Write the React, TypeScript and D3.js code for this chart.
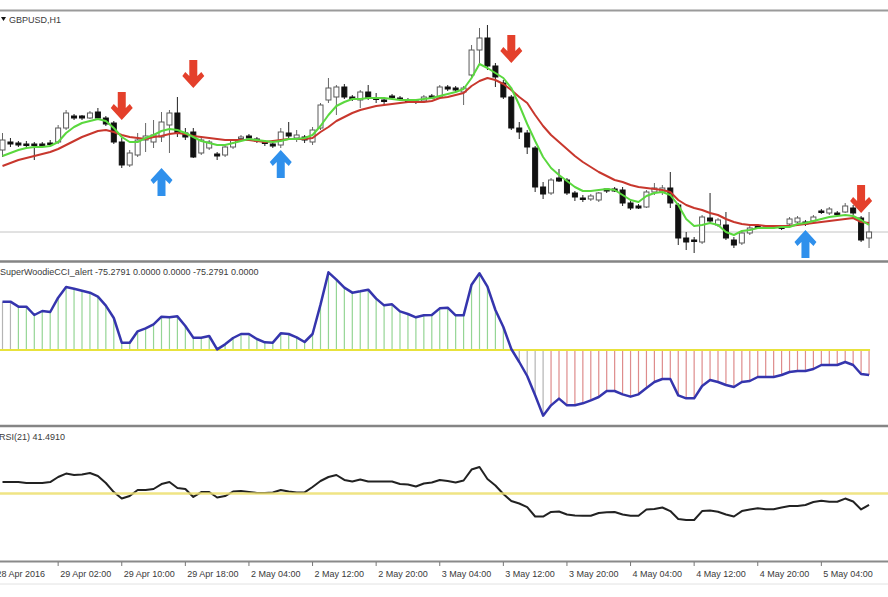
import { useEffect, useRef } from 'react';
import * as d3 from 'd3';

// GBPUSD H1 candles, 110 bars (28 Apr 19:00 .. 5 May 08:00)
const opens = [
  1.4660, 1.4668, 1.4667, 1.4666, 1.4666, 1.4666, 1.4667, 1.4668, 1.4682, 1.4694,
  1.4694, 1.4692, 1.4698, 1.4692, 1.4687, 1.4668, 1.4645, 1.4655, 1.4670, 1.4668,
  1.4673, 1.4685, 1.4697, 1.4677, 1.4678, 1.4657, 1.4662, 1.4656, 1.4655, 1.4663,
  1.4672, 1.4674, 1.4671, 1.4668, 1.4666, 1.4665, 1.4677, 1.4672, 1.4673, 1.4668,
  1.4682, 1.4710, 1.4713, 1.4723, 1.4713, 1.4710, 1.4718, 1.4712, 1.4710, 1.4714,
  1.4712, 1.4710, 1.4709, 1.4709, 1.4714, 1.4713, 1.4723, 1.4722, 1.4718, 1.4735,
  1.4760, 1.4772, 1.4744, 1.4727, 1.4713, 1.4682, 1.4677, 1.4662, 1.4623, 1.4617,
  1.4632, 1.4630, 1.4617, 1.4612, 1.4611, 1.4610, 1.4621, 1.4621, 1.4620, 1.4607,
  1.4604, 1.4603, 1.4618, 1.4618, 1.4622, 1.4605, 1.4572, 1.4570, 1.4568, 1.4592,
  1.4585, 1.4585, 1.4570, 1.4567, 1.4577, 1.4584, 1.4583, 1.4584, 1.4583, 1.4586,
  1.4588, 1.4588, 1.4589, 1.4599, 1.4597, 1.4597, 1.4598, 1.4602, 1.4592, 1.4572,
];
const highs = [
  1.4677, 1.4672, 1.4669, 1.4669, 1.4668, 1.4668, 1.4670, 1.4685, 1.4700, 1.4696,
  1.4695, 1.4699, 1.4702, 1.4694, 1.4689, 1.4672, 1.4660, 1.4677, 1.4687, 1.4690,
  1.4698, 1.4700, 1.4713, 1.4682, 1.4682, 1.4672, 1.4670, 1.4658, 1.4664, 1.4671,
  1.4675, 1.4676, 1.4673, 1.4670, 1.4669, 1.4682, 1.4688, 1.4680, 1.4675, 1.4683,
  1.4707, 1.4732, 1.4725, 1.4726, 1.4715, 1.4720, 1.4725, 1.4717, 1.4713, 1.4716,
  1.4714, 1.4712, 1.4711, 1.4715, 1.4716, 1.4725, 1.4725, 1.4724, 1.4724, 1.4765,
  1.4782, 1.4785, 1.4747, 1.4730, 1.4715, 1.4688, 1.4680, 1.4664, 1.4628, 1.4632,
  1.4641, 1.4632, 1.4619, 1.4615, 1.4616, 1.4618, 1.4622, 1.4623, 1.4623, 1.4609,
  1.4606, 1.4620, 1.4627, 1.4625, 1.4638, 1.4607, 1.4578, 1.4573, 1.4595, 1.4617,
  1.4592, 1.4598, 1.4573, 1.4579, 1.4584, 1.4586, 1.4585, 1.4585, 1.4585, 1.4593,
  1.4594, 1.4590, 1.4595, 1.4601, 1.4603, 1.4599, 1.4607, 1.4605, 1.4594, 1.4598,
];
const lows = [
  1.4653, 1.4663, 1.4663, 1.4662, 1.4650, 1.4663, 1.4664, 1.4666, 1.4680, 1.4690,
  1.4690, 1.4691, 1.4690, 1.4684, 1.4666, 1.4642, 1.4643, 1.4653, 1.4658, 1.4662,
  1.4668, 1.4657, 1.4673, 1.4670, 1.4652, 1.4655, 1.4660, 1.4650, 1.4653, 1.4661,
  1.4670, 1.4669, 1.4667, 1.4664, 1.4662, 1.4662, 1.4670, 1.4668, 1.4667, 1.4665,
  1.4680, 1.4707, 1.4695, 1.4711, 1.4709, 1.4702, 1.4710, 1.4707, 1.4705, 1.4711,
  1.4709, 1.4708, 1.4706, 1.4707, 1.4711, 1.4711, 1.4719, 1.4718, 1.4705, 1.4732,
  1.4747, 1.4740, 1.4723, 1.4711, 1.4680, 1.4671, 1.4656, 1.4618, 1.4611, 1.4615,
  1.4628, 1.4615, 1.4609, 1.4608, 1.4609, 1.4608, 1.4617, 1.4618, 1.4604, 1.4600,
  1.4601, 1.4602, 1.4615, 1.4615, 1.4602, 1.4565, 1.4560, 1.4557, 1.4566, 1.4587,
  1.4583, 1.4570, 1.4562, 1.4565, 1.4575, 1.4581, 1.4581, 1.4581, 1.4580, 1.4584,
  1.4586, 1.4584, 1.4587, 1.4596, 1.4595, 1.4594, 1.4597, 1.4595, 1.4568, 1.4562,
];
const closes = [
  1.4670, 1.4666, 1.4665, 1.4665, 1.4665, 1.4665, 1.4666, 1.4682, 1.4697, 1.4692,
  1.4692, 1.4697, 1.4692, 1.4686, 1.4668, 1.4645, 1.4657, 1.4670, 1.4674, 1.4675,
  1.4688, 1.4697, 1.4677, 1.4673, 1.4653, 1.4670, 1.4668, 1.4654, 1.4663, 1.4670,
  1.4673, 1.4672, 1.4669, 1.4667, 1.4664, 1.4678, 1.4674, 1.4675, 1.4670, 1.4680,
  1.4705, 1.4722, 1.4723, 1.4713, 1.4711, 1.4718, 1.4712, 1.4711, 1.4709, 1.4713,
  1.4711, 1.4709, 1.4708, 1.4713, 1.4712, 1.4723, 1.4721, 1.4720, 1.4722, 1.4760,
  1.4772, 1.4744, 1.4733, 1.4713, 1.4682, 1.4678, 1.4663, 1.4623, 1.4616, 1.4630,
  1.4629, 1.4617, 1.4613, 1.4611, 1.4614, 1.4617, 1.4619, 1.4619, 1.4607, 1.4602,
  1.4602, 1.4618, 1.4622, 1.4622, 1.4607, 1.4572, 1.4568, 1.4569, 1.4593, 1.4589,
  1.4590, 1.4572, 1.4565, 1.4577, 1.4582, 1.4583, 1.4582, 1.4583, 1.4582, 1.4591,
  1.4592, 1.4586, 1.4593, 1.4598, 1.4601, 1.4596, 1.4604, 1.4597, 1.4570, 1.4578,
];

// fast (green) and slow (red) moving averages
const fastMa = [
  1.4654, 1.4657, 1.4660, 1.4662, 1.4663, 1.4663, 1.4664, 1.4668, 1.4677, 1.4683,
  1.4687, 1.4689, 1.4691, 1.4689, 1.4682, 1.4673, 1.4668, 1.4668, 1.4672, 1.4675,
  1.4679, 1.4681, 1.4680, 1.4677, 1.4673, 1.4669, 1.4667, 1.4665, 1.4665, 1.4667,
  1.4669, 1.4671, 1.4670, 1.4669, 1.4668, 1.4669, 1.4671, 1.4671, 1.4672, 1.4675,
  1.4684, 1.4695, 1.4704, 1.4708, 1.4711, 1.4711, 1.4712, 1.4712, 1.4712, 1.4711,
  1.4710, 1.4710, 1.4710, 1.4711, 1.4712, 1.4714, 1.4716, 1.4718, 1.4721, 1.4732,
  1.4746, 1.4742, 1.4737, 1.4732, 1.4722, 1.4705, 1.4686, 1.4669, 1.4653, 1.4642,
  1.4635, 1.4629, 1.4623, 1.4619, 1.4619, 1.4620, 1.4621, 1.4620, 1.4615, 1.4610,
  1.4608, 1.4614, 1.4617, 1.4618, 1.4615, 1.4605, 1.4591, 1.4584, 1.4585, 1.4587,
  1.4585, 1.4578, 1.4575, 1.4579, 1.4580, 1.4582, 1.4582, 1.4582, 1.4583, 1.4583,
  1.4586, 1.4587, 1.4589, 1.4591, 1.4593, 1.4594, 1.4595, 1.4594, 1.4590, 1.4585,
];
const slowMa = [
  1.4644, 1.4647, 1.4650, 1.4652, 1.4654, 1.4656, 1.4658, 1.4661, 1.4665, 1.4669,
  1.4673, 1.4676, 1.4679, 1.4680, 1.4678, 1.4675, 1.4673, 1.4672, 1.4671, 1.4673,
  1.4674, 1.4676, 1.4677, 1.4676, 1.4674, 1.4673, 1.4672, 1.4671, 1.4670, 1.4670,
  1.4670, 1.4670, 1.4669, 1.4668, 1.4669, 1.4670, 1.4671, 1.4671, 1.4671, 1.4672,
  1.4678, 1.4683, 1.4689, 1.4693, 1.4697, 1.4700, 1.4702, 1.4704, 1.4705, 1.4706,
  1.4707, 1.4708, 1.4708, 1.4708, 1.4709, 1.4712, 1.4713, 1.4715, 1.4717, 1.4724,
  1.4729, 1.4732, 1.4730, 1.4726, 1.4720, 1.4713, 1.4707, 1.4695, 1.4684, 1.4675,
  1.4668, 1.4661, 1.4654, 1.4648, 1.4643, 1.4638, 1.4634, 1.4630, 1.4628, 1.4625,
  1.4623, 1.4622, 1.4621, 1.4620, 1.4618, 1.4610, 1.4605, 1.4602, 1.4600, 1.4597,
  1.4595, 1.4591, 1.4588, 1.4586, 1.4585, 1.4585, 1.4584, 1.4584, 1.4584, 1.4584,
  1.4585, 1.4586, 1.4587, 1.4588, 1.4589, 1.4590, 1.4591, 1.4592, 1.4588, 1.4587,
];

// signal arrows: bar index and price of the arrow tip
const sellBars = [15, 24, 64, 108];
const sellPrices = [1.4690, 1.4722, 1.4747, 1.4597];
const buyBars = [20, 35, 101];
const buyPrices = [1.4642, 1.4660, 1.4580];

// SuperWoodieCCI
const cciValues = [
  145, 145, 130, 130, 105, 117, 114, 157, 189, 184,
  178, 172, 160, 133, 96, 22, 22, 56, 65, 77,
  100, 98, 101, 72, 37, 37, 42, 2, 17, 36,
  48, 48, 33, 23, 22, 50, 48, 38, 24, 48,
  136, 233, 211, 187, 172, 176, 181, 154, 134, 137,
  116, 108, 98, 104, 105, 125, 127, 104, 104, 196,
  230, 190, 120, 69, 3, -36, -78, -136, -197, -166,
  -146, -166, -166, -160, -151, -141, -123, -123, -133, -140,
  -133, -114, -96, -87, -87, -136, -145, -145, -108, -90,
  -96, -105, -111, -96, -93, -81, -81, -81, -75, -66,
  -63, -63, -57, -45, -45, -45, -36, -45, -72, -75.2791,
];

// RSI(21)
const rsiValues = [
  58.6, 58.6, 58.6, 57.9, 57.9, 57.9, 58.6, 62.4, 65.0, 63.9,
  64.3, 65.4, 63.2, 57.9, 51.1, 46.2, 48.1, 52.6, 52.6, 53.4,
  57.1, 58.6, 54.1, 53.4, 47.4, 51.1, 51.1, 47.0, 48.1, 51.5,
  51.9, 51.1, 50.4, 50.4, 50.8, 52.6, 51.5, 50.8, 50.8, 54.9,
  59.4, 62.4, 63.9, 60.2, 59.0, 60.5, 59.0, 59.0, 59.0, 59.0,
  57.1, 56.8, 55.3, 57.5, 58.3, 60.2, 59.4, 58.3, 59.8, 68.0,
  69.9, 60.9, 56.0, 49.6, 44.4, 42.5, 39.8, 32.7, 32.7, 36.1,
  36.5, 34.2, 33.5, 33.3, 33.3, 35.3, 35.9, 36.1, 34.2, 33.3,
  33.3, 38.0, 38.3, 39.5, 36.8, 30.8, 30.1, 30.1, 36.8, 37.2,
  36.3, 34.2, 32.7, 36.8, 38.0, 38.9, 38.1, 38.1, 39.5, 40.6,
  40.6, 41.4, 43.6, 44.6, 43.8, 43.8, 46.2, 44.0, 38.0, 41.491,
];
const rsiLevel = 50;

// time axis
const tickBars = [-1, 7, 15, 23, 31, 39, 47, 55, 63, 71, 79, 87, 95, 103];
const tickLabels = [
  '28 Apr 2016', '29 Apr 02:00', '29 Apr 10:00', '29 Apr 18:00', '2 May 04:00',
  '2 May 12:00', '2 May 20:00', '3 May 04:00', '3 May 12:00', '3 May 20:00',
  '4 May 04:00', '4 May 12:00', '4 May 20:00', '5 May 04:00',
];

export default function App() {
  const svgRef = useRef<SVGSVGElement>(null);

  useEffect(() => {
    if (!svgRef.current) return;

    const width = 888;
    const height = 597;
    const font = 'Liberation Sans, Arial, sans-serif';
    const textColor = '#3a3a3a';

    const svg = d3.select(svgRef.current);
    svg.selectAll('*').remove();

    svg.append('rect').attr('width', width).attr('height', height).attr('fill', '#fff');

    const n = closes.length;
    const x = d3.scaleLinear().domain([0, n - 1]).range([2.5, 2.5 + (n - 1) * 7.95]);
    const yPrice = d3.scaleLinear().domain([1.4549, 1.48]).range([261, 10]);
    const yCci = d3.scaleLinear().domain([-225, 261]).range([425, 263]);
    const yRsi = d3.scaleLinear().domain([0, 100]).range([560, 427]);
    const bars = d3.range(n);

    // panel frames
    const frames = [
      { y: 10.5, w: 2, c: '#9a9a9a' },
      { y: 261.5, w: 2.5, c: '#858585' },
      { y: 426, w: 2.5, c: '#858585' },
      { y: 561.5, w: 2, c: '#8a8a8a' },
      { y: 584, w: 1, c: '#e2e2e2' },
    ];
    svg.append('g').selectAll('line').data(frames).join('line')
      .attr('x1', 0).attr('x2', width)
      .attr('y1', d => d.y).attr('y2', d => d.y)
      .attr('stroke', d => d.c).attr('stroke-width', d => d.w);

    // ---------- main panel ----------
    const main = svg.append('g');

    // last price line
    main.append('line')
      .attr('x1', 0).attr('x2', width)
      .attr('y1', yPrice(closes[n - 1])).attr('y2', yPrice(closes[n - 1]))
      .attr('stroke', '#c4c4c4').attr('stroke-width', 1);

    const candles = main.append('g').selectAll('g').data(bars).join('g');
    candles.append('line')
      .attr('x1', i => x(i)).attr('x2', i => x(i))
      .attr('y1', i => yPrice(highs[i])).attr('y2', i => yPrice(lows[i]))
      .attr('stroke', i => (closes[i] >= opens[i] ? '#666' : '#222'))
      .attr('stroke-width', 1);
    candles.append('rect')
      .attr('x', i => x(i) - 2.5)
      .attr('width', 5)
      .attr('y', i => yPrice(Math.max(opens[i], closes[i])))
      .attr('height', i => Math.max(1.5, Math.abs(yPrice(opens[i]) - yPrice(closes[i]))))
      .attr('fill', i => (closes[i] >= opens[i] ? '#fff' : '#111'))
      .attr('stroke', i => (closes[i] >= opens[i] ? '#5a5a5a' : '#111'))
      .attr('stroke-width', 1);

    const priceLine = (vals: number[]) =>
      d3.line<number>().x(i => x(i)).y(i => yPrice(vals[i])).curve(d3.curveLinear)(bars) || '';

    main.append('path').attr('d', priceLine(slowMa))
      .attr('fill', 'none').attr('stroke', '#c8372d').attr('stroke-width', 2)
      .attr('stroke-linejoin', 'round');
    main.append('path').attr('d', priceLine(fastMa))
      .attr('fill', 'none').attr('stroke', '#5ad83e').attr('stroke-width', 2)
      .attr('stroke-linejoin', 'round');

    // arrows (tip at origin, pointing down)
    const arrowDown = 'M-4,-28 L4,-28 L4,-12 L8,-16 L11,-12 L0,0 L-11,-12 L-8,-16 L-4,-12 Z';
    main.append('g').selectAll('path').data(sellBars).join('path')
      .attr('d', arrowDown)
      .attr('transform', (b, k) => `translate(${x(b)},${yPrice(sellPrices[k])})`)
      .attr('fill', '#e4402b');
    main.append('g').selectAll('path').data(buyBars).join('path')
      .attr('d', arrowDown)
      .attr('transform', (b, k) => `translate(${x(b)},${yPrice(buyPrices[k])}) scale(1,-1)`)
      .attr('fill', '#2f90ec');

    main.append('path').attr('d', 'M1,17 L6,17 L3.5,21 Z').attr('fill', '#111');
    main.append('text').attr('x', 9).attr('y', 23)
      .attr('font-family', font).attr('font-size', 9).attr('fill', textColor)
      .text('GBPUSD,H1');

    // ---------- CCI panel ----------
    const cci = svg.append('g');
    let run = 2;
    const histColor = bars.map((i) => {
      const prev = i === 0 ? cciValues[0] : cciValues[i - 1];
      if (i > 0 && Math.sign(cciValues[i]) !== Math.sign(prev)) run = 0;
      run += 1;
      if (run < 5) return '#b4b4b4';
      return cciValues[i] >= 0 ? '#95d595' : '#de8c8c';
    });
    cci.append('g').selectAll('line').data(bars).join('line')
      .attr('x1', i => x(i)).attr('x2', i => x(i))
      .attr('y1', yCci(0)).attr('y2', i => yCci(cciValues[i]))
      .attr('stroke', i => histColor[i]).attr('stroke-width', 1.2);
    cci.append('line')
      .attr('x1', 0).attr('x2', x(n - 1) + 1)
      .attr('y1', yCci(0)).attr('y2', yCci(0))
      .attr('stroke', '#e8e23c').attr('stroke-width', 2);
    cci.append('path')
      .attr('d', d3.line<number>().x(i => x(i)).y(i => yCci(cciValues[i]))(bars) || '')
      .attr('fill', 'none').attr('stroke', '#3535ad').attr('stroke-width', 2.5)
      .attr('stroke-linejoin', 'round');
    cci.append('text').attr('x', 0).attr('y', 274.5)
      .attr('font-family', font).attr('font-size', 9).attr('fill', textColor)
      .text('SuperWoodieCCI_alert -75.2791 0.0000 0.0000 -75.2791 0.0000');

    // ---------- RSI panel ----------
    const rsi = svg.append('g');
    rsi.append('path')
      .attr('d', d3.line<number>().x(i => x(i)).y(i => yRsi(rsiValues[i]))(bars) || '')
      .attr('fill', 'none').attr('stroke', '#222').attr('stroke-width', 2)
      .attr('stroke-linejoin', 'round');
    rsi.append('line')
      .attr('x1', 0).attr('x2', width)
      .attr('y1', yRsi(rsiLevel)).attr('y2', yRsi(rsiLevel))
      .attr('stroke', '#eee070').attr('stroke-width', 2.5).attr('opacity', 0.85);
    rsi.append('text').attr('x', -1).attr('y', 439.5)
      .attr('font-family', font).attr('font-size', 9).attr('fill', textColor)
      .text('RSI(21) 41.4910');

    // ---------- time axis ----------
    const axis = svg.append('g');
    axis.selectAll('line').data(tickBars).join('line')
      .attr('x1', b => x(b)).attr('x2', b => x(b))
      .attr('y1', 562).attr('y2', 566)
      .attr('stroke', '#777').attr('stroke-width', 1);
    axis.selectAll('text').data(tickBars).join('text')
      .attr('x', b => x(b) + 2).attr('y', 576.5)
      .attr('font-family', font).attr('font-size', 9).attr('fill', textColor)
      .text((_, k) => tickLabels[k]);
  }, []);

  return (
    <svg ref={svgRef} width={888} height={597}
      style={{ position: 'absolute', left: 0, top: 0, display: 'block' }} />
  );
}
